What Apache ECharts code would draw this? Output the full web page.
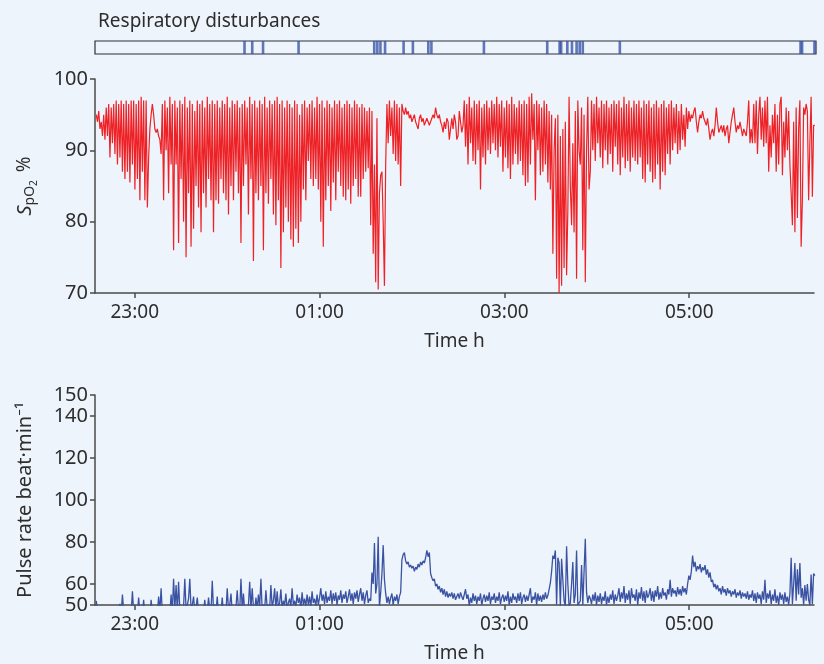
<!DOCTYPE html>
<html>
<head>
<meta charset="utf-8">
<script src="https://cdn.jsdelivr.net/npm/echarts@6/dist/echarts.min.js"></script>
<style>
html,body{margin:0;padding:0;background:#eef4fb;}
#chart{width:824px;height:664px;}
</style>
</head>
<body>
<div id="chart"></div>
<script>
// ---- data ----
const timeTicks = [23, 25, 27, 29];             // 23:00, 01:00, 03:00, 05:00
const spo2Ticks = [70, 80, 90, 100];
const pulseTicks = [50, 60, 80, 100, 120, 140, 150];

// respiratory disturbance events (clock time)
const disturbanceTimes = ['00:11','00:16','00:23','00:46','01:35','01:37','01:39','01:42','01:54','02:00',
  '02:10','02:12','02:46','03:27','03:35','03:36','03:40','03:43','03:46','03:48','03:50','04:14',
  '06:11','06:12','06:20'];

// samples, first sample at 22:35, one every 0.81 min
const sampleStart = '22:35';
const sampleStepMin = 0.81;

const spo2Values = [
  // 22:35 - 23:08
  95,94,95.5,93,94,92,95,91.5,96,92,96.5,89,96,91,96.5,89.5,97,88,96.5,89,
  97,87,96.5,86,97,87,96.5,85.5,97,88,97,84.5,96.5,86,97,83,97.5,87,97,83,97,82,
  // 23:08 - 23:17
  89,93,95,96.5,95,93,92.5,93,92,91.5,89.5,
  // 23:17 - 01:52
  96.5,83,97,90,96,84,97.5,88,96.5,76,97,88,96,77,97,86,96.5,80,97.5,75,
  96,84,97,76.5,96.5,79,95.5,85,97,82,96.5,78.5,97,84,96,82,97.5,86,96.5,83,
  97,78.5,96.5,83,97,82.5,96,86,97,84,96.5,83,97.5,81,96,85,97,83,96.5,87,
  97,84,96,77,96.5,85,97,88,96,81,97.5,86,96.5,74.5,97,84,96,83,97,85,
  96.5,76,97.5,84,96,82.5,97,86,96.5,81,97,79.5,97.5,83,96.5,73.5,97,78.5,96,82,
  97,80,96.5,77.5,96,76.5,97,79,96.5,77,95,80,96.5,84.5,97,83,96,88.5,96.5,86,
  97,85,96,86,97.5,84.5,96.5,80,97,76.5,96,83,97,85,96.5,81.5,96,85.5,97,83,
  96.5,87,97,85,96,83.5,96.5,83,97,84.5,96.5,82.5,96,85,97,86,96.5,83.5,96,83.5,
  96.5,86,96,87,95.5,87.5,96,79.5,95.5,75.5,88,71.5,94.5,70.5,84,86.5,87,80,71,88,
  96.5,91,97,92,96,89.5,97,88.5,96.5,88,96,85,
  // 01:52 - 02:31
  96.5,95.5,95,96,95,95.5,94.5,95,94,94.5,95,94,93.5,93,94.5,95,94,94.5,93.5,94,
  94.5,94,93.5,94,94.5,95,94.5,96,95,94.5,95,94,93.5,92.5,94,93,94.5,94,91.5,93,
  94.5,93,95,94,91.5,92,95.5,94,92.5,93.5,
  // 02:31 - 03:29
  97,90.5,96.5,88,97.5,91,96,88.5,97,88,96.5,90,97,84.5,96,89,96.5,88,97,90,
  96,89.5,97,91,96.5,90,97.5,89,96.5,90.5,97,87,96,89,97,87.5,96.5,86,97.5,88,
  96.5,89.5,96,88,97,88.5,96.5,86.5,97,85,96.5,85.5,97.5,88,98,91.5,96.5,83,97,90,
  96.5,86.5,96,87,97,88,96.5,85.5,95.5,84.5,95,
  // 03:29 - 03:53
  75.5,90,94.5,72,95,70,92,71,93,73.5,94,72.5,81.5,97.5,85,79.5,91,78.5,95.5,72,
  97,90,88,96,76,95,71.5,90,97.5,84.5,
  // 03:53 - 04:58
  87,97,90,96.5,88.5,97.5,91,96,89,97,87.5,96.5,90,97,88,96,89.5,96.5,87,97,
  90.5,96.5,88,97,86.5,96,89,97.5,87.5,96.5,88.5,97,87,96,89,97,88.5,96.5,88,97,
  89,96,86,97,85.5,96.5,88,97,87,96,85.5,96.5,86,97,88,96,84.5,96.5,87,97,
  86.5,96,89.5,96.5,88,97,90,96,91,96.5,89.5,95.5,90,96.5,91.5,95,90.5,96,93,95.5,
  // 04:58 - 05:34
  94,95,94.5,95.5,96,94,92.5,94,95,94.5,95.5,94.5,94,93.5,94.5,93,91.5,92.5,93,92,
  93.5,96,94,92.5,93,93.5,92.5,93.5,92,93,93.5,91,92.5,94,95,96,94,92.5,93.5,93,
  94,93,92,93,92.5,
  // 05:34 - 06:04
  92,94,97,91,93,91,96.5,91,97,89.5,95,97.5,91.5,96,90.5,97,91,97.5,87,93.5,
  89,95,91,96.5,87,95,88,96.5,97.5,86.5,94,89,96,90,95.5,88,84,
  // 06:04 - 06:20
  79.5,94,78.5,96,80.5,93,97,76.5,83,96,95,96.5,95.5,83,91,97.5,83.5,93.5,93.5
];

const pulseValues = [
  // 22:35 - 00:44 (trace mostly below 50, only peaks show)
  52,48,46,45,46,45,46,45,46,45,46,45,46,45,46,45,46,45,47,50.5,
  46,55,47,45,46,45,46,45,46,56.5,47,46,45,46,53.5,46,45,46,52.5,45,
  46,45,46,45,52.5,46,45,46,45,46,54,47,58,46,45,46,45,46,47,45,
  55,47,62.5,48,59.5,47,61,48,47,46,49,62.5,48,50,53,62.5,48,50,54,47,
  49,53.5,47,46,48,45,47,52.5,46,47,53.5,48,47,61.5,48,50,47,54,46,48,
  47,53.5,46,48,47,58,48,50,55.5,47,48,47,49,57,48,47,62.5,48,55.5,47,
  49,48,50,61,48,58,49,47,53.5,48,55,49,62.5,48,50,48,57,49,50,48,
  59.5,49,52,58,48,56.5,49,51,57.5,48,52,50,55.5,48,51,53,49,58,50,52,
  49,55,51,53.5,48,56,50,53,49.5,55,50,54,49,56.5,51,53,49.5,55,50,53.5,
  // 00:44 - 01:52
  58,52,55,50.5,56.5,51,54,52,57,50.5,55.5,52,56,50,54.5,52.5,57,51,55,53,
  56.5,51,54,57.5,52,55.5,50.5,56,53,57,51.5,55,58,52,56,50.5,54.5,57,51,53,
  52,65.5,60,79.5,55.5,60,82.5,49,56,65,78.5,62,55.5,51,54,50.5,53.5,55.5,50,54,
  52,55,50.5,54,56,71.5,
  // 01:52 - 03:27
  74,75,71,69.5,70.5,68,69,67.5,68.5,66,68,67,69.5,68,70.5,69,71,70,72.5,76,
  73,75,65,63,61.5,62.5,59,60,57.5,59,56,58,55,57.5,54,56.5,53.5,55.5,54,56,
  53,55.5,52.5,54,55.5,53,56,54,52.5,55,57.5,53,55,49.5,53.5,51,55.5,52,54.5,50.5,
  54,52,55.5,50,53,55,51.5,54.5,52,56,50.5,54,52.5,55.5,51,54,52,56,50.5,53.5,
  55,51.5,54.5,52,56.5,50,54,51,55.5,52.5,54,51,55.5,52,56,50.5,53.5,55,51.5,54.5,
  52,55,58,51,54,52.5,56,50,55.5,52,54.5,51.5,55,52.5,56,53,54.5,
  // 03:27 - 03:54
  54,60.5,66,73.5,72,76,50,72.5,70,49.5,72,71.5,52,49.5,78,60,49.5,51,60,70.5,
  51,55,76,50,49.5,52,69,50,49.5,81.5,56,51,54.5,53,
  // 03:54 - 04:58
  50.5,55,52,56,50,54.5,51.5,55.5,50.5,54,52,56.5,50,54,51,55,52.5,57,50.5,55,
  52,54.5,58,51.5,56,53,59,51,55.5,52.5,57,50.5,58,53.5,55,52,57.5,50,56,53,
  58.5,52,56.5,51,57,53.5,55,58,52,56.5,51.5,57,54,59,52.5,56,53,58,54.5,56,
  52.5,57.5,55,62,54,58,55.5,57,54,58.5,55,57.5,54.5,59,56,58,55,60,64,
  // 04:58 - 05:34
  62,66,73.5,68,70.5,66,68.5,67,69.5,65.5,68,66.5,69,64.5,67,63,65.5,61,62,58.5,
  60,57.5,59.5,56.5,58,55,59,56,57.5,54.5,58,55.5,57,54,56.5,55,57.5,53.5,56,54.5,
  57,53,56,54,55.5,
  // 05:34 - 06:20
  53,56.5,52.5,55,53.5,57,52,55.5,51,56,53,55,50.5,56.5,52.5,62,51,55.5,53,57,
  50.5,55,52,57.5,51,54.5,50,56,52.5,55,50.5,56,51.5,54,50,55.5,72.5,50.5,60,70,
  52,67,55,70,53.5,58,50,59.5,52,60,52.5,50,64.5,50.5,65,64
];

// ---- helpers ----
function toHour(s) {
  let [h, m] = s.split(':').map(Number);
  if (h < 12) h += 24;
  return h + m / 60;
}
const t0 = toHour(sampleStart);
const dt = sampleStepMin / 60;
const spo2Data = spo2Values.map((v, i) => [t0 + i * dt, v]);
const pulseData = pulseValues.map((v, i) => [t0 + i * dt, v]);
const eventData = disturbanceTimes.map(s => [toHour(s), 0.5]);

const xMin = 22.57, xMax = 30.35;
const FONT = 'Noto Sans';
const TXT = '#2d2d2d';
const AX = '#4a4a4a';
const fmtClock = v => String(Math.round(v) % 24).padStart(2, '0') + ':00';

function timeAxis(gridIndex, showLabels) {
  return {
    type: 'value', gridIndex, min: xMin, max: xMax,
    name: showLabels ? 'Time h' : '', nameLocation: 'middle', nameGap: 39,
    nameTextStyle: { fontFamily: FONT, fontSize: 19, color: TXT },
    axisLine: { show: showLabels, lineStyle: { color: AX, width: 1.5 } },
    axisTick: { show: showLabels, customValues: timeTicks, length: 5, lineStyle: { color: AX, width: 1.5 } },
    axisLabel: { show: showLabels, customValues: timeTicks, formatter: fmtClock, margin: 10,
      fontFamily: FONT, fontSize: 19, color: TXT },
    splitLine: { show: false }
  };
}

const chart = echarts.init(document.getElementById('chart'), null, { renderer: 'canvas' });
chart.setOption({
  backgroundColor: '#eef4fb',
  animation: false,
  title: {
    text: 'Respiratory disturbances', left: 93, top: 7,
    textStyle: { fontFamily: FONT, fontSize: 19, fontWeight: 'normal', color: TXT }
  },
  grid: [
    { left: 95, right: 8, top: 41, height: 13, show: true, borderColor: '#2b2f45', borderWidth: 1.2, backgroundColor: 'transparent' },
    { left: 95, right: 10, top: 79, height: 214 },
    { left: 95, right: 10, top: 395, height: 214 }
  ],
  xAxis: [timeAxis(0, false), timeAxis(1, true), timeAxis(2, true)],
  yAxis: [
    { type: 'value', gridIndex: 0, min: 0, max: 1, show: false },
    {
      type: 'value', gridIndex: 1, min: 70, max: 100, interval: 10,
      name: '{i|S}{s|pO}{t|2} %', nameLocation: 'middle', nameGap: 56, nameRotate: 90,
      nameTextStyle: {
        fontFamily: FONT, fontSize: 19, color: TXT,
        rich: {
          i: { fontFamily: FONT, fontSize: 20, fontStyle: 'italic', color: TXT },
          s: { fontFamily: FONT, fontSize: 14, color: TXT, padding: [11, 0, 0, 0] },
          t: { fontFamily: FONT, fontSize: 10, color: TXT, padding: [18, 3, 0, 0] }
        }
      },
      axisLine: { show: true, lineStyle: { color: AX, width: 1.5 } },
      axisTick: { show: true, length: 5, lineStyle: { color: AX, width: 1.5 } },
      axisLabel: { fontFamily: FONT, fontSize: 20, color: TXT, margin: 7 },
      splitLine: { show: false }
    },
    {
      type: 'value', gridIndex: 2, min: 50, max: 150,
      name: 'Pulse rate beat·min⁻¹', nameLocation: 'middle', nameGap: 60, nameRotate: 90,
      nameTextStyle: { fontFamily: FONT, fontSize: 20, color: TXT },
      axisLine: { show: true, lineStyle: { color: AX, width: 1.5 } },
      axisTick: { show: true, customValues: pulseTicks, length: 5, lineStyle: { color: AX, width: 1.5 } },
      axisLabel: { customValues: pulseTicks, fontFamily: FONT, fontSize: 20, color: TXT, margin: 7 },
      splitLine: { show: false }
    }
  ],
  series: [
    {
      type: 'scatter', xAxisIndex: 0, yAxisIndex: 0, data: eventData,
      symbol: 'rect', symbolSize: [2.6, 13], itemStyle: { color: '#3a55a8' }, silent: true
    },
    {
      type: 'line', xAxisIndex: 1, yAxisIndex: 1, data: spo2Data, showSymbol: false,
      lineStyle: { color: '#ee2226', width: 1.2 }, clip: true, silent: true
    },
    {
      type: 'line', xAxisIndex: 2, yAxisIndex: 2, data: pulseData, showSymbol: false,
      lineStyle: { color: '#3a52a2', width: 1.3 }, clip: true, silent: true
    }
  ]
});
</script>
</body>
</html>
